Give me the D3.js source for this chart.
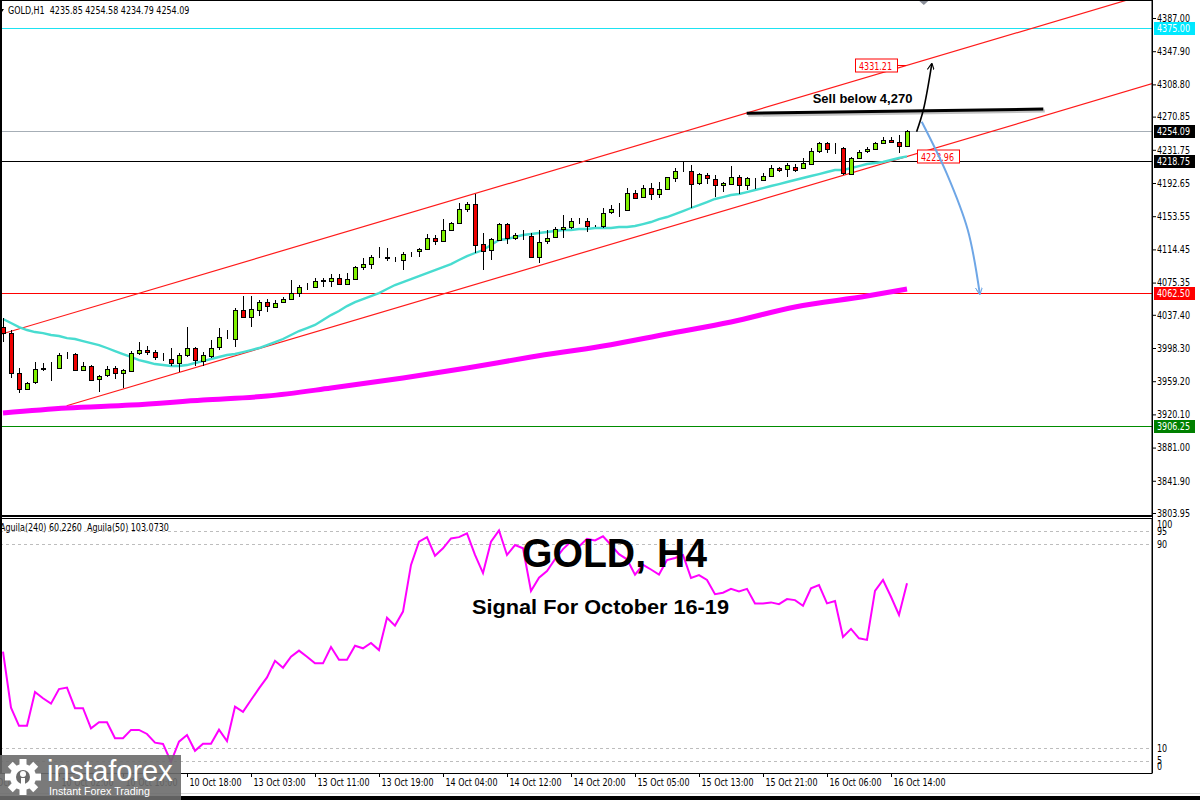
<!DOCTYPE html>
<html>
<head>
<meta charset="utf-8">
<script src="https://cdn.jsdelivr.net/npm/d3@7"></script>
<style>
html, body { margin: 0; padding: 0; background: #fff; }
svg { display: block; }
</style>
</head>
<body>
<svg id="chart" width="1200" height="800"></svg>
<script>
// ---- data ----
const headerText = "GOLD,H1  4235.85 4254.58 4234.79 4254.09";
const indicatorHeader = "Aguila(240) 60.2260  Aguila(50) 103.0730";

const opens = [4023.4,4015.9,3969.2,3950.0,3958.3,3973.6,3975.2,3975.2,3992.0,3991.2,
  3973.4,3977.6,3961.4,3966.5,3974.4,3968.5,3971.3,3992.0,3995.9,3993.2,
  3986.8,3985.0,3980.3,3989.2,3997.9,3983.3,3989.2,3999.1,4009.7,4008.5,
  4043.0,4034.4,4043.8,4052.1,4046.9,4052.1,4055.6,4062.7,4070.5,4070.5,
  4077.2,4076.4,4080.4,4073.3,4079.2,4093.3,4096.9,4105.1,4105.1,4102.8,
  4101.9,4108.6,4111.7,4114.5,4127.5,4124.3,4137.3,4145.2,4162.0,4167.6,
  4120.4,4113.7,4125.5,4144.3,4127.5,4130.2,4130.2,4105.8,4124.3,4128.2,
  4138.1,4140.4,4147.9,4147.9,4141.2,4142.0,4157.6,4161.6,4161.6,4181.2,
  4175.8,4186.4,4179.3,4185.2,4199.3,4207.1,4207.1,4192.3,4202.1,4197.4,
  4189.5,4192.3,4200.1,4190.3,4197.4,4196.2,4200.9,4210.0,4208.8,4211.8,
  4210.0,4215.9,4229.5,4240.1,4233.5,4233.5,4204.1,4222.4,4229.5,4232.3,
  4239.4,4243.3,4240.6,4235.85];
const highs = [4033.6,4019.4,3974.7,3958.3,3981.9,3980.7,3981.9,3992.4,3993.9,3992.4,
  3981.9,3978.3,3966.5,3977.1,3977.1,3973.6,3994.7,4005.7,4000.6,3995.9,
  3992.4,3998.3,3992.4,4023.4,3999.4,3993.5,4007.7,4021.8,4019.4,4045.4,
  4059.5,4059.5,4054.8,4056.0,4054.8,4058.0,4078.4,4072.5,4075.0,4080.4,
  4080.4,4085.1,4085.1,4086.3,4094.9,4103.9,4107.8,4116.9,4115.7,4105.5,
  4111.7,4111.7,4115.7,4132.5,4131.4,4149.9,4146.7,4168.7,4170.6,4179.3,
  4133.4,4127.5,4145.9,4145.2,4133.4,4137.3,4134.1,4137.3,4137.3,4140.4,
  4154.9,4151.0,4151.0,4151.0,4143.2,4162.8,4166.7,4169.4,4186.4,4184.4,
  4190.3,4192.3,4193.5,4200.1,4209.9,4217.7,4213.8,4204.1,4204.1,4202.1,
  4194.2,4212.6,4202.1,4200.1,4198.2,4204.1,4213.8,4211.8,4215.9,4215.0,
  4221.7,4233.5,4241.3,4241.3,4240.1,4234.7,4223.6,4231.5,4235.4,4241.3,
  4247.2,4247.2,4249.2,4254.58];
const lows = [4005.3,3963.0,3945.3,3948.8,3955.9,3971.3,3959.4,3974.8,3985.3,3971.3,
  3971.3,3959.4,3946.8,3964.1,3961.8,3951.2,3970.0,3990.0,3990.0,3984.1,
  3982.9,3977.1,3970.4,3987.7,3977.1,3977.1,3986.5,3995.9,4008.9,3999.8,
  4033.6,4023.4,4036.0,4041.1,4045.7,4050.9,4054.8,4058.7,4066.6,4068.6,
  4070.5,4070.5,4072.5,4072.5,4078.4,4090.2,4091.0,4103.9,4101.1,4099.9,
  4090.2,4105.5,4105.8,4113.7,4119.6,4123.1,4136.1,4144.3,4158.8,4109.8,
  4090.2,4101.9,4124.7,4120.8,4125.5,4125.5,4103.9,4098.0,4120.8,4127.5,
  4127.5,4138.1,4144.3,4135.3,4140.4,4139.6,4156.7,4152.9,4160.8,4175.8,
  4174.6,4172.6,4174.6,4184.4,4194.2,4205.9,4162.8,4190.3,4191.1,4175.8,
  4182.4,4191.1,4179.3,4184.4,4185.2,4195.3,4200.1,4205.9,4199.3,4205.9,
  4209.1,4215.0,4227.6,4227.6,4226.4,4202.1,4202.1,4221.7,4227.6,4231.5,
  4238.2,4239.4,4227.6,4234.79];
const closes = [4015.9,3968.9,3950.0,3957.1,3973.6,3975.2,3975.4,3990.0,3992.4,3972.4,
  3977.6,3960.6,3965.3,3973.6,3968.5,3972.4,3992.4,3995.9,3993.5,3987.3,
  3987.1,3980.3,3990.0,3997.9,3984.1,3990.0,3998.6,4010.9,4010.0,4043.0,
  4034.4,4043.8,4052.8,4047.7,4051.6,4055.6,4062.7,4069.8,4070.7,4077.5,
  4078.4,4080.4,4073.3,4079.2,4093.3,4096.9,4105.1,4105.5,4103.5,4103.1,
  4108.6,4109.0,4114.5,4127.5,4124.3,4137.3,4145.2,4162.0,4167.6,4119.6,
  4111.7,4126.3,4144.3,4127.5,4131.4,4130.4,4105.8,4123.5,4128.2,4138.1,
  4140.4,4147.9,4148.1,4142.0,4141.4,4157.6,4161.6,4162.0,4181.2,4175.8,
  4186.4,4179.3,4185.2,4199.3,4207.1,4207.4,4192.3,4202.9,4198.2,4190.3,
  4192.3,4200.1,4190.3,4198.2,4197.6,4200.9,4210.0,4207.1,4213.8,4208.8,
  4215.9,4230.7,4239.4,4233.5,4233.7,4204.1,4222.4,4229.5,4232.3,4239.4,
  4243.3,4240.6,4236.2,4254.09];

// fast moving average (turquoise), one value per bar
const maFast = [4032.4,4027.7,4023.0,4019.5,4017.1,4015.9,4013.6,4012.4,4010.0,4008.9,
  4006.5,4004.1,4001.8,3998.3,3994.7,3991.2,3987.7,3984.1,3981.8,3979.4,
  3978.2,3977.1,3977.1,3978.2,3980.6,3982.9,3985.3,3987.7,3990.0,3991.2,
  3993.5,3995.9,3998.3,4001.8,4005.3,4008.9,4013.6,4018.3,4021.8,4025.4,
  4031.3,4037.1,4041.8,4047.7,4052.4,4056.0,4059.5,4063.0,4067.8,4072.5,
  4076.0,4079.5,4083.1,4086.6,4090.1,4093.7,4097.2,4101.9,4106.6,4110.2,
  4113.7,4119.6,4125.5,4126.7,4129.0,4131.4,4132.5,4133.7,4134.9,4136.1,
  4137.3,4137.3,4138.4,4138.4,4139.6,4139.6,4139.6,4140.8,4140.8,4142.0,
  4144.3,4146.7,4150.2,4152.6,4156.1,4159.6,4163.2,4166.7,4170.2,4173.8,
  4176.1,4178.5,4179.7,4182.0,4184.4,4186.7,4189.1,4191.4,4193.8,4196.2,
  4198.5,4200.9,4203.2,4205.6,4207.9,4207.9,4210.3,4212.6,4215.0,4216.2,
  4217.4,4219.7,4222.1,4224.0];

// slow moving average (magenta), read at a few bars
const maSlowBars = [0, 8, 16, 25, 33, 41, 50, 58, 66, 75, 83, 91, 99, 108, 113];
const maSlowValues = [3921.7,3927.6,3931.1,3937.0,3941.7,3951.1,3962.9,3974.7,3987.7,4000.6,
  4014.8,4028.9,4046.6,4059.5,4067.8];

// Aguila oscillator, one value per bar
const aguila = [47.8,25.8,18.7,18.7,32.0,29.5,27.4,33.1,33.7,25.6,
  25.6,17.7,20.1,20.1,13.8,13.8,17.1,17.1,15.5,12.1,
  11.6,4.6,12.5,15.1,8.9,11.7,11.7,17.2,12.7,26.2,
  24.2,28.8,33.4,37.7,44.2,41.5,45.8,48.2,45.8,43.2,
  43.2,49.6,44.6,44.6,50.1,49.1,51.2,48.4,61.1,58.0,
  63.5,81.8,90.9,92.7,85.4,88.3,92.2,92.7,94.2,85.7,
  78.6,90.9,95.3,85.7,89.6,88.3,71.6,76.8,79.4,84.0,
  88.0,91.0,89.0,92.0,91.4,93.0,89.6,86.0,84.0,78.0,
  81.8,80.0,78.0,83.7,84.5,85.7,76.7,77.8,75.9,70.3,
  70.9,72.4,71.4,72.4,66.7,66.7,67.1,66.4,68.4,68.0,
  65.8,72.6,73.9,66.7,67.6,53.5,56.7,53.0,52.4,71.6,
  75.9,69.3,62.2,74.6];

const priceTicks = [4387.00,4347.90,4308.80,4270.85,4231.75,4192.65,4153.55,4114.45,
  4075.35,4037.40,3998.30,3959.20,3920.10,3881.00,3841.90,3803.95];
const timeTickBars = [-2, 7, 15, 23, 31, 39, 47, 55, 63, 71, 79, 87, 95, 103, 111];
const timeTickLabels = ["9 Oct 2025","10 Oct 02:00","10 Oct 10:00","10 Oct 18:00","13 Oct 03:00",
  "13 Oct 11:00","13 Oct 19:00","14 Oct 04:00","14 Oct 12:00","14 Oct 20:00",
  "15 Oct 05:00","15 Oct 13:00","15 Oct 21:00","16 Oct 06:00","16 Oct 14:00"];

const levelNames = ["target", "bid", "pivot", "support", "floor"];
const levelPrices = [4375.00, 4254.09, 4218.75, 4062.50, 3906.25];
const indicatorTicks = [100, 95, 90, 10, 5, 0];
const indicatorLevels = [95, 90, 10, 5];

// drawn objects, in [bar, price]
const channelUpper = [[-0.375, 4014.2], [145, 4420.7]];
const channelLower = [[7.96, 3930.3], [145, 4313.4]];
const channelMarks = [4331.21, 4223.96];
const sellLine = [[92.96, 4274.7], [130.04, 4279.8]];
const sellText = "Sell below 4,270";
const upArrow = [[114.2, 4253.1], [115.04, 4278.6], [116.1, 4333.0]];
const downArrow = [[114.84, 4264.8], [117.96, 4204.0], [120.6, 4137.3], [122.1, 4062.0]];

const titleText = "GOLD, H4";
const subtitleText = "Signal For October 16-19";

// ---- styles ----
const levelStyle = {
  target:  { line: "#1de3f2", box: "#00e8ff", text: "#fff" },
  bid:     { line: "#a6aeb6", box: "#000",    text: "#fff" },
  pivot:   { line: "#000",    box: "#000",    text: "#fff" },
  support: { line: "#ff0000", box: "#ff0000", text: "#fff" },
  floor:   { line: "#008c00", box: "#008000", text: "#fff" }
};
const axisFont = "'DejaVu Sans',Verdana,sans-serif";
const axisSize = 10.5;

// ---- layout ----
const W = 1200, H = 800;
const main = { left: 0, right: 1152, top: 0, bottom: 515 };
const ind = { top: 518, bottom: 773 };

const svg = d3.select("#chart");

const x = d3.scaleLinear().domain([0, 143.625]).range([3, 1152]);
const y = d3.scaleLinear().domain([3803.95, 4387]).range([513, 18]);
const yi = d3.scaleLinear().domain([0, 100]).range([773.5, 518.5]);

// narrow the axis font so that "4387.00" is about 33px wide, as in the terminal font
const probe = svg.append("text").attr("font-family", axisFont).attr("font-size", axisSize).text("4387.00");
const squeeze = 33 / probe.node().getComputedTextLength();
probe.remove();
function narrow(sel) {
  sel.each(function() {
    const w = this.getComputedTextLength();
    d3.select(this).attr("textLength", w * squeeze).attr("lengthAdjust", "spacingAndGlyphs");
  });
}

const defs = svg.append("defs");
defs.append("clipPath").attr("id", "clipMain")
  .append("rect").attr("x", main.left).attr("y", main.top)
  .attr("width", main.right - main.left).attr("height", main.bottom - main.top);
defs.append("clipPath").attr("id", "clipInd")
  .append("rect").attr("x", 0).attr("y", ind.top)
  .attr("width", main.right).attr("height", ind.bottom - ind.top);

function arrowMarker(id, color) {
  defs.append("marker").attr("id", id)
    .attr("viewBox", "0 0 10 10").attr("refX", 9).attr("refY", 5)
    .attr("markerWidth", 7).attr("markerHeight", 7)
    .attr("markerUnits", "userSpaceOnUse")
    .attr("orient", "auto")
    .append("path").attr("d", "M0,0 L10,5 L0,10").attr("fill", "none")
    .attr("stroke", color).attr("stroke-width", 1.6);
}
arrowMarker("arrBlack", "#000");
arrowMarker("arrBlue", "#6ea6e6");

svg.append("rect").attr("width", W).attr("height", H).attr("fill", "#fff");

// ---- main panel ----
const gMain = svg.append("g").attr("clip-path", "url(#clipMain)");

// horizontal levels
levelNames.forEach((name, k) => {
  gMain.append("line")
    .attr("x1", main.left).attr("x2", main.right)
    .attr("y1", Math.round(y(levelPrices[k])) + 0.5).attr("y2", Math.round(y(levelPrices[k])) + 0.5)
    .attr("stroke", levelStyle[name].line).attr("stroke-width", 1);
});

// channel
[channelUpper, channelLower].forEach(ch => {
  gMain.append("line")
    .attr("x1", x(ch[0][0])).attr("y1", y(ch[0][1]))
    .attr("x2", x(ch[1][0])).attr("y2", y(ch[1][1]))
    .attr("stroke", "#ff1a1a").attr("stroke-width", 1.2);
});

// slow MA
gMain.append("path")
  .datum(maSlowBars.map((b, k) => [b, maSlowValues[k]]))
  .attr("fill", "none").attr("stroke", "#ff00ff").attr("stroke-width", 5)
  .attr("d", d3.line().x(d => x(d[0])).y(d => y(d[1])).curve(d3.curveMonotoneX));

// fast MA
gMain.append("path")
  .datum(maFast)
  .attr("fill", "none").attr("stroke", "#48dcd0").attr("stroke-width", 2.4)
  .attr("d", d3.line().x((d, i) => x(i)).y(d => y(d)));

// candles
const bars = d3.range(opens.length);
const gC = gMain.append("g").attr("shape-rendering", "crispEdges");
gC.selectAll("line.wick").data(bars).join("line")
  .attr("class", "wick")
  .attr("x1", i => Math.round(x(i)) + 0.5).attr("x2", i => Math.round(x(i)) + 0.5)
  .attr("y1", i => y(highs[i])).attr("y2", i => y(lows[i]))
  .attr("stroke", "#000").attr("stroke-width", 1);
gC.selectAll("rect.body").data(bars).join("rect")
  .attr("class", "body")
  .attr("x", i => Math.round(x(i)) - 2 + 0.5)
  .attr("y", i => Math.round(y(Math.max(opens[i], closes[i]))) + 0.5)
  .attr("width", 4)
  .attr("height", i => Math.max(0, Math.round(Math.abs(y(opens[i]) - y(closes[i])))))
  .attr("fill", i => closes[i] >= opens[i] ? "#80f000" : "#ee0000")
  .attr("stroke", "#000").attr("stroke-width", 1);

// channel value marks at the last bar
const lastBar = opens.length - 1;
const markBoxes = [
  { v: channelMarks[0], x0: x(lastBar) - 52, w: 42, dash: [x(lastBar) - 10, x(lastBar) - 1] },
  { v: channelMarks[1], x0: x(lastBar) + 10, w: 42, dash: null }
];
markBoxes.forEach(m => {
  const yy = Math.round(y(m.v)) + 0.5;
  if (m.dash) {
    gMain.append("line").attr("x1", m.dash[0]).attr("x2", m.dash[1])
      .attr("y1", yy).attr("y2", yy).attr("stroke", "#ff0000");
  }
  gMain.append("rect").attr("x", Math.round(m.x0) + 0.5).attr("y", yy - 6.5)
    .attr("width", m.w).attr("height", 13)
    .attr("fill", "#fff").attr("stroke", "#ff0000").attr("stroke-width", 1);
  gMain.append("text").attr("x", m.x0 + 4).attr("y", yy + 4)
    .attr("font-family", axisFont).attr("font-size", axisSize).attr("fill", "#ff0000")
    .text(d3.format(".2f")(m.v)).call(narrow);
});

// sell line with shadow
const sl = d3.line().x(d => x(d[0])).y(d => y(d[1]));
gMain.append("path").datum(sellLine).attr("d", sl)
  .attr("transform", "translate(1.5,2)")
  .attr("stroke", "#9a9a9a").attr("stroke-width", 3).attr("opacity", 0.6).attr("fill", "none");
gMain.append("path").datum(sellLine).attr("d", sl)
  .attr("stroke", "#000").attr("stroke-width", 3).attr("fill", "none");
gMain.append("text")
  .attr("x", x(sellLine[0][0]) + 66).attr("y", y(sellLine[0][1]) - 10)
  .attr("font-family", "'Liberation Sans',Arial,sans-serif").attr("font-weight", "bold")
  .attr("font-size", 13).attr("fill", "#000").text(sellText);

// arrows
const curve = d3.line().x(d => x(d[0])).y(d => y(d[1])).curve(d3.curveCatmullRom);
gMain.append("path").datum(downArrow).attr("d", curve)
  .attr("fill", "none").attr("stroke", "#6ea6e6").attr("stroke-width", 2)
  .attr("marker-end", "url(#arrBlue)");
gMain.append("path").datum(upArrow).attr("d", curve)
  .attr("fill", "none").attr("stroke", "#000").attr("stroke-width", 1.6)
  .attr("marker-end", "url(#arrBlack)");
// small grey pointer cut by the top edge
gMain.append("path").attr("d", `M${x(114.4)},0 L${x(115.1)},5 L${x(115.8)},0 Z`)
  .attr("fill", "#8a8f99");

// header
svg.append("path").attr("d", "M0,9 L4,9 L2,12 Z").attr("fill", "#000");
svg.append("text").attr("x", 8).attr("y", 14)
  .attr("font-family", axisFont).attr("font-size", axisSize).attr("fill", "#000")
  .attr("xml:space", "preserve").style("white-space", "pre")
  .text(headerText).call(narrow);

// main panel border
svg.append("rect").attr("x", 0.5).attr("y", 0.5)
  .attr("width", main.right - 0.5).attr("height", main.bottom)
  .attr("fill", "none").attr("stroke", "#000").attr("stroke-width", 1);

// price axis
const pAxis = svg.append("g").attr("transform", `translate(${main.right},0)`)
  .call(d3.axisRight(y).tickValues(priceTicks).tickFormat(d3.format(".2f")).tickSize(4).tickPadding(1));
pAxis.select(".domain").remove();
pAxis.selectAll("text").attr("font-family", axisFont).attr("font-size", axisSize).attr("fill", "#000")
  .call(narrow);

// level price boxes
levelNames.forEach((name, k) => {
  const yy = Math.round(y(levelPrices[k]));
  svg.append("rect").attr("x", main.right + 2).attr("y", yy - 6)
    .attr("width", 41).attr("height", 13).attr("fill", levelStyle[name].box);
  svg.append("text").attr("x", main.right + 5).attr("y", yy + 4)
    .attr("font-family", axisFont).attr("font-size", axisSize).attr("fill", levelStyle[name].text)
    .text(d3.format(".2f")(levelPrices[k])).call(narrow);
});

// ---- indicator panel ----
const gInd = svg.append("g").attr("clip-path", "url(#clipInd)");
indicatorLevels.forEach(v => {
  gInd.append("line").attr("x1", 0).attr("x2", main.right)
    .attr("y1", Math.round(yi(v)) + 0.5).attr("y2", Math.round(yi(v)) + 0.5)
    .attr("stroke", "#bdbdbd").attr("stroke-dasharray", "3,3");
});
gInd.append("path").datum(aguila)
  .attr("fill", "none").attr("stroke", "#ff00ff").attr("stroke-width", 2)
  .attr("d", d3.line().x((d, i) => x(i)).y(d => yi(d)));

svg.append("text").attr("x", 0).attr("y", 531)
  .attr("font-family", axisFont).attr("font-size", axisSize).attr("fill", "#000")
  .attr("xml:space", "preserve").style("white-space", "pre")
  .text(indicatorHeader).call(narrow);

svg.append("rect").attr("x", 0.5).attr("y", ind.top + 0.5)
  .attr("width", main.right - 0.5).attr("height", ind.bottom - ind.top)
  .attr("fill", "none").attr("stroke", "#000").attr("stroke-width", 1);
svg.append("line").attr("x1", 0).attr("x2", main.right)
  .attr("y1", main.bottom + 1.5).attr("y2", main.bottom + 1.5).attr("stroke", "#000");
svg.append("rect").attr("x", 0).attr("y", 0).attr("width", 2).attr("height", ind.bottom)
  .attr("fill", "#000");

const iAxis = svg.append("g").attr("transform", `translate(${main.right},0)`);
iAxis.selectAll("text").data(indicatorTicks).join("text")
  .attr("x", 5)
  .attr("y", d => Math.min(Math.max(yi(d), 524), 766))
  .attr("dy", "0.35em")
  .attr("font-family", axisFont).attr("font-size", axisSize).attr("fill", "#000")
  .text(d => d).call(narrow);

// ---- titles ----
svg.append("text").attr("x", 522).attr("y", 567)
  .attr("font-family", "'Liberation Sans',Arial,sans-serif").attr("font-weight", "bold")
  .attr("font-size", 41).attr("textLength", 185).attr("lengthAdjust", "spacingAndGlyphs")
  .attr("fill", "#000").text(titleText);
svg.append("text").attr("x", 472).attr("y", 614)
  .attr("font-family", "'Liberation Sans',Arial,sans-serif").attr("font-weight", "bold")
  .attr("font-size", 20).attr("textLength", 257).attr("lengthAdjust", "spacingAndGlyphs")
  .attr("fill", "#000").text(subtitleText);

// ---- time axis ----
const tAxis = svg.append("g").attr("transform", `translate(0,${ind.bottom})`)
  .call(d3.axisBottom(x).tickValues(timeTickBars)
    .tickFormat((d, k) => timeTickLabels[k]).tickSize(4).tickPadding(2));
tAxis.select(".domain").remove();
tAxis.selectAll("text").attr("text-anchor", "start").attr("x", 2)
  .attr("font-family", axisFont).attr("font-size", axisSize).attr("fill", "#000")
  .call(narrow);

svg.append("line").attr("x1", main.right + 0.5).attr("x2", main.right + 0.5)
  .attr("y1", 0).attr("y2", ind.bottom).attr("stroke", "#000");
svg.append("line").attr("x1", 0).attr("x2", W).attr("y1", 793.5).attr("y2", 793.5)
  .attr("stroke", "#d8d8d8");
svg.append("rect").attr("x", 0).attr("y", 796).attr("width", W).attr("height", 4).attr("fill", "#000");

// ---- logo ----
const logo = svg.append("g");
logo.append("rect").attr("x", 0).attr("y", 755).attr("width", 181).attr("height", 45)
  .attr("fill", "#6b6b6b").attr("opacity", 0.9);
const gear = logo.append("g").attr("transform", "translate(23,777)");
d3.range(8).forEach(k => {
  gear.append("rect").attr("x", -3.5).attr("y", -18).attr("width", 7).attr("height", 8)
    .attr("fill", "#fff").attr("transform", `rotate(${k * 45})`);
});
gear.append("circle").attr("r", 13).attr("fill", "#fff");
gear.append("circle").attr("r", 7).attr("fill", "#6b6b6b");
gear.append("circle").attr("cy", -3).attr("r", 3).attr("fill", "#fff");
gear.append("rect").attr("x", -2).attr("y", 1).attr("width", 4).attr("height", 9).attr("fill", "#fff");
logo.append("text").attr("x", 47).attr("y", 781)
  .attr("font-family", "'Liberation Sans',Arial,sans-serif").attr("font-size", 29)
  .attr("fill", "#fff").text("instaforex");
logo.append("text").attr("x", 49).attr("y", 795)
  .attr("font-family", "'Liberation Sans',Arial,sans-serif").attr("font-size", 11.5)
  .attr("textLength", 101).attr("lengthAdjust", "spacingAndGlyphs")
  .attr("fill", "#fff").text("Instant Forex Trading");
</script>
</body>
</html>
